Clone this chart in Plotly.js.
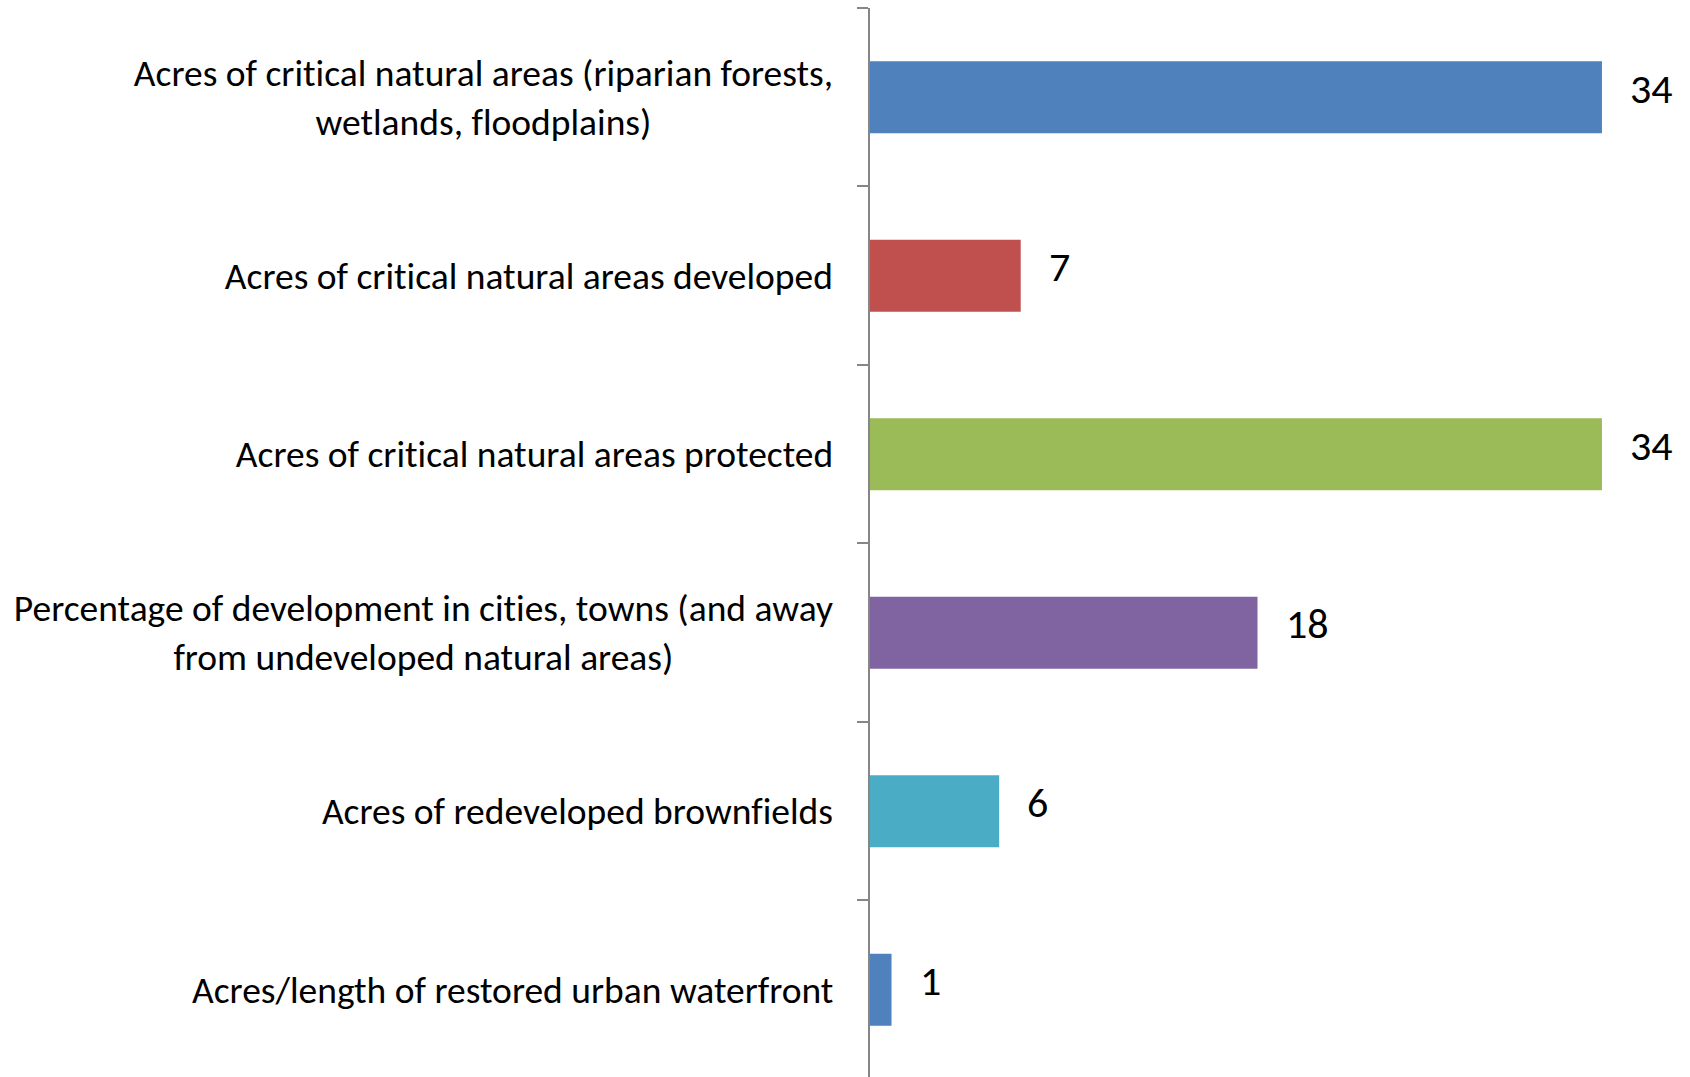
<!DOCTYPE html>
<html>
<head>
<meta charset="utf-8">
<script src="https://cdn.plot.ly/plotly-3.0.1.min.js"></script>
<style>
  html, body { margin: 0; padding: 0; background: #ffffff; }
  #chart { width: 1690px; height: 1077px; }
  #chart text { font-variant-ligatures: none; font-feature-settings: "liga" 0, "clig" 0; }
</style>
</head>
<body>
<div id="chart"></div>
<script>
// ---- data ----
const categories = [
  "Acres of critical natural areas (riparian forests,<br>wetlands, floodplains)",
  "Acres of critical natural areas developed",
  "Acres of critical natural areas protected",
  "Percentage of development in cities, towns (and away<br>from undeveloped natural areas)",
  "Acres of redeveloped brownfields",
  "Acres/length of restored urban waterfront"
];
const values = [34, 7, 34, 18, 6, 1];
const barColors = ["#4F81BD", "#C0504D", "#9BBB59", "#8064A2", "#4BACC6", "#4F81BD"];

const FONT = "Carlito, 'Liberation Sans Narrow', 'Liberation Sans', Arial, sans-serif";

const trace = {
  type: "bar",
  orientation: "h",
  x: values,
  y: categories,
  marker: { color: barColors, line: { width: 0 } },
  hoverinfo: "skip"
};

const labelAnnotations = categories.map(c => ({
  xref: "paper", x: 0, xshift: -35,
  yref: "y", y: c,
  xanchor: "right", yanchor: "middle",
  align: "center",
  text: c,
  showarrow: false,
  font: { family: FONT, size: 37.5, color: "#000000" }
}));

const valueAnnotations = values.map((v, i) => ({
  xref: "x", x: v, xshift: 26,
  yref: "y", y: categories[i], yshift: 9,
  xanchor: "left", yanchor: "middle",
  text: String(v),
  showarrow: false,
  font: { family: FONT, size: 42, color: "#000000" }
}));

const layout = {
  width: 1690,
  height: 1077,
  margin: { l: 870, r: 0, t: 8, b: 0, pad: 0 },
  paper_bgcolor: "#ffffff",
  plot_bgcolor: "#ffffff",
  showlegend: false,
  bargap: 0.597,
  font: { family: FONT, size: 36, color: "#000000" },
  xaxis: {
    range: [0, 38.09],
    visible: false,
    showgrid: false,
    zeroline: false,
    fixedrange: true
  },
  yaxis: {
    type: "category",
    categoryorder: "array",
    categoryarray: categories,
    range: [5.489, -0.5],
    showticklabels: false,
    showline: true,
    linecolor: "#868686",
    linewidth: 2,
    ticks: "outside",
    tickson: "boundaries",
    ticklen: 11,
    tickwidth: 2,
    tickcolor: "#868686",
    showgrid: false,
    zeroline: false,
    fixedrange: true
  },
  annotations: labelAnnotations.concat(valueAnnotations)
};

Plotly.newPlot("chart", [trace], layout, { displayModeBar: false, staticPlot: true });
</script>
</body>
</html>
